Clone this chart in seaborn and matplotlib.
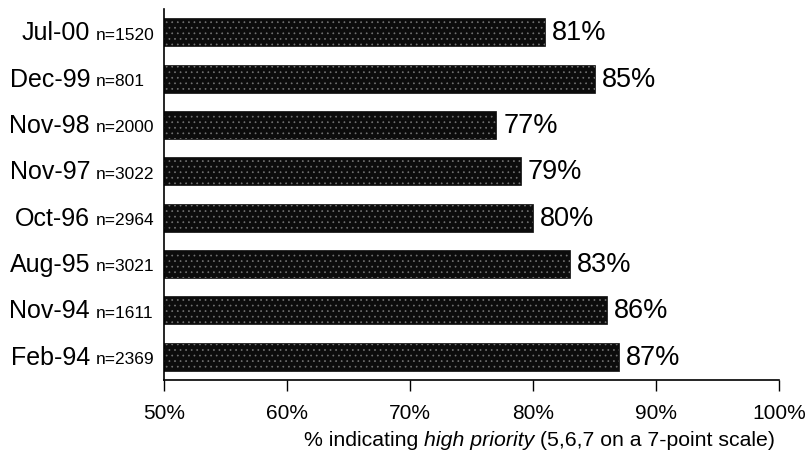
import matplotlib
matplotlib.use("Agg")
import matplotlib.pyplot as plt
import matplotlib.font_manager as fm
from matplotlib.transforms import blended_transform_factory, offset_copy
import seaborn as sns
import pandas as pd

# Survey waves, sample sizes and share rating the issue a high priority
waves = ["Jul-00", "Dec-99", "Nov-98", "Nov-97", "Oct-96", "Aug-95", "Nov-94", "Feb-94"]
sample_sizes = [1520, 801, 2000, 3022, 2964, 3021, 1611, 2369]
pct_high = [81, 85, 77, 79, 80, 83, 86, 87]
x_ticks = [50, 60, 70, 80, 90, 100]

sns.set_theme(style="white")
names = {f.name for f in fm.fontManager.ttflist}
narrow = "Liberation Sans Narrow" if "Liberation Sans Narrow" in names else "Liberation Sans"
plt.rcParams["font.family"] = [narrow, "DejaVu Sans"]

df = pd.DataFrame({"wave": waves, "n": sample_sizes, "pct": pct_high})

fig = plt.figure(figsize=(8.1, 4.6), dpi=100)
ax = fig.add_axes([0.2025, 0.172, 0.7593, 0.806])

sns.barplot(data=df, x="pct", y="wave", orient="h", color="#0c0c0c",
            width=0.6, ax=ax, saturation=1, edgecolor="#0c0c0c", linewidth=0.5)

# speckled fill texture on the bars
for p in ax.patches:
    p.set_hatch("...")
    p.set_hatch_linewidth(0.5)
    p._hatch_color = (0.45, 0.45, 0.45, 1.0)

ax.set_xlim(50, 100)
ax.set_ylim(7.5, -0.5)
ax.set_xticks(x_ticks)
ax.set_xticklabels([f"{t}%" for t in x_ticks], fontsize=15)
ax.tick_params(axis="x", direction="out", length=8, width=1, color="black",
               labelcolor="black", pad=9, bottom=True)
ax.set_yticks([])
ax.set_ylabel("")
ax.set_xlabel("")

for side in ["top", "right"]:
    ax.spines[side].set_visible(False)
for side in ["left", "bottom"]:
    ax.spines[side].set_color("black")
    ax.spines[side].set_linewidth(1.2)

# category labels: date plus sample size
trans = blended_transform_factory(fig.transFigure, ax.transData)
for i, (w, n) in enumerate(zip(waves, sample_sizes)):
    ax.text(90 / 810, i, w, transform=trans, ha="right", va="center",
            fontsize=18, color="black")
    ax.text(96 / 810, i + 0.04, f"n={n}", transform=trans, ha="left", va="center",
            fontsize=12.5, color="black")

# value labels at bar ends
val_trans = offset_copy(ax.transData, fig=fig, x=7, y=0, units="dots")
for i, v in enumerate(pct_high):
    ax.text(v, i, f"{v}%", transform=val_trans, ha="left", va="center",
            fontsize=19.5, color="black")

# x-axis title with italic emphasis
parts = [("% indicating ", "normal"), ("high priority", "italic"),
         (" (5,6,7 on a 7-point scale)", "normal")]
fig.canvas.draw()
renderer = fig.canvas.get_renderer()
x0 = 304 / 810
y0 = 1 - 441 / 460
for s, style in parts:
    t = fig.text(x0, y0, s, fontsize=15.3, style=style, ha="left", va="center",
                 transform=fig.transFigure, color="black")
    bb = t.get_window_extent(renderer)
    x0 += bb.width / fig.bbox.width

fig.savefig("out.png", dpi=100)
